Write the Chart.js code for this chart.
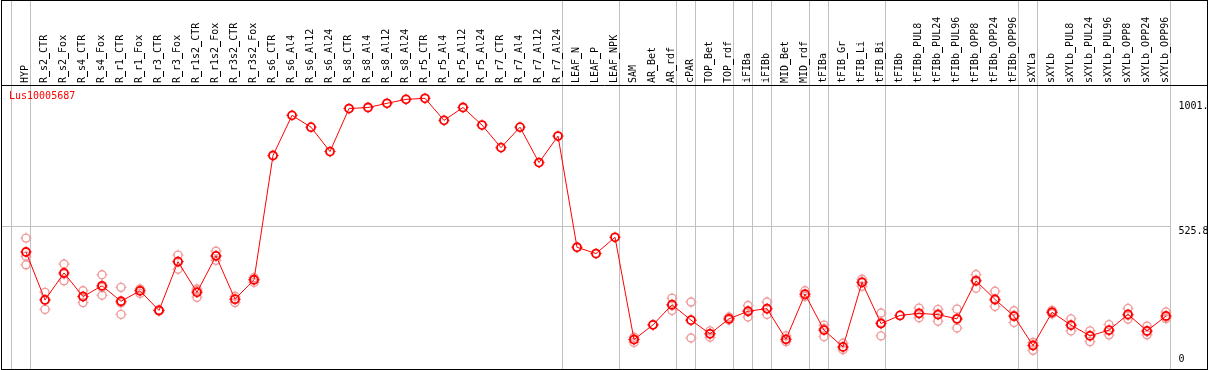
<!DOCTYPE html>
<html>
<head>
<meta charset="utf-8">
<script src="https://cdn.jsdelivr.net/npm/chart.js@4"></script>
<style>
  html, body { margin: 0; padding: 0; background: #fff; }
</style>
</head>
<body>
<canvas id="chart" width="1209" height="370"></canvas>
<script>
// sample names along the top
const categories = [
  'HYP', 'R_s2_CTR', 'R_s2_Fox', 'R_s4_CTR', 'R_s4_Fox', 'R_r1_CTR', 'R_r1_Fox', 'R_r3_CTR', 'R_r3_Fox',
  'R_r1s2_CTR', 'R_r1s2_Fox', 'R_r3s2_CTR', 'R_r3s2_Fox', 'R_s6_CTR', 'R_s6_Al4', 'R_s6_Al12', 'R_s6_Al24',
  'R_s8_CTR', 'R_s8_Al4', 'R_s8_Al12', 'R_s8_Al24', 'R_r5_CTR', 'R_r5_Al4', 'R_r5_Al12', 'R_r5_Al24',
  'R_r7_CTR', 'R_r7_Al4', 'R_r7_Al12', 'R_r7_Al24', 'LEAF_N', 'LEAF_P', 'LEAF_NPK', 'SAM', 'AR_Bet', 'AR_rdf',
  'cPAR', 'TOP_Bet', 'TOP_rdf', 'iFIBa', 'iFIBb', 'MID_Bet', 'MID_rdf', 'tFIBa', 'tFIB_Gr', 'tFIB_Li', 'tFIB_Bi',
  'tFIBb', 'tFIBb_PUL8', 'tFIBb_PUL24', 'tFIBb_PUL96', 'tFIBb_OPP8', 'tFIBb_OPP24', 'tFIBb_OPP96',
  'sXYLa', 'sXYLb', 'sXYLb_PUL8', 'sXYLb_PUL24', 'sXYLb_PUL96', 'sXYLb_OPP8', 'sXYLb_OPP24', 'sXYLb_OPP96'
];

// mean expression per sample
const meanValues = [
  428, 245, 348, 258, 299, 240, 280, 205, 391, 274, 413, 248, 322,
  796, 949, 904, 811, 975, 979, 995, 1010, 1014, 930, 979, 912, 826, 904, 769, 870,
  446, 422, 484, 94, 150, 227, 168, 116, 173, 202, 212, 95, 267, 130, 66, 312, 155,
  186, 194, 189, 173, 318, 247, 183, 71, 198, 149, 108, 130, 190, 127, 184
];

// replicates (pale circles)
const repHigh = [
  481, 274, 382, 280, 341, 293, 287, 207, 416, 287, 431, 259, 330,
  null, null, null, null, null, null, null, null, null, null, null, null, null, null, null, null,
  null, null, null, 103, null, 252, 237, 127, 180, 224, 237, 108, 280, 149, 80, 324, 195,
  null, 214, 209, 210, 342, 278, 204, 83, 205, 173, 127, 151, 213, 145, 199
];
const repLow = [
  379, 209, 318, 235, 263, 190, 270, 203, 362, 255, 396, 235, 312,
  null, null, null, null, null, null, null, null, null, null, null, null, null, null, null, null,
  null, null, null, 83, null, 205, 100, 103, 168, 180, 190, 86, 258, 105, 55, 297, 108,
  null, 177, 164, 138, 290, 220, 159, 53, 192, 127, 86, 112, 172, 112, 174
];
const repMid = [
  412, 246, 344, 259, 293, 234, 280, 205, 392, 280, 412, 247, 322,
  null, null, null, null, null, null, null, null, null, null, null, null, null, null, null, null,
  null, null, null, 95, 150, 224, 167, 116, 173, 202, 210, 95, 265, 136, 64, 314, 159,
  null, 192, 192, 171, 320, 244, 186, 74, 198, 148, 110, 128, 186, 124, 180
];

// index of the last sample in each group (grey separators)
const groupEnds = [-1, 0, 28, 31, 34, 35, 37, 38, 39, 41, 42, 45, 52, 53, 60];

const yTicks = [0, 525.8, 1001];
const yTickLabels = ['0', '525.8', '1001.'];
const yMax = 1061;

const mono = '10px "DejaVu Sans Mono", "Liberation Mono", monospace';

const framePlugin = {
  id: 'frame',
  beforeDatasetsDraw(chart) {
    const ctx = chart.ctx;
    const xs = chart.scales.x, ys = chart.scales.y;
    const W = chart.width, H = chart.height;
    const sepX = i => Math.round(xs.getPixelForValue(i) + 4) + 0.5;
    ctx.save();
    ctx.lineWidth = 1;

    ctx.strokeStyle = '#c0c0c0';
    groupEnds.forEach(i => {
      const px = sepX(i);
      ctx.beginPath(); ctx.moveTo(px, 0); ctx.lineTo(px, H); ctx.stroke();
    });
    const lastSep = sepX(groupEnds[groupEnds.length - 1]);
    const gy = Math.round(ys.getPixelForValue(yTicks[1])) + 0.5;
    ctx.beginPath(); ctx.moveTo(1, gy); ctx.lineTo(lastSep, gy); ctx.stroke();

    ctx.strokeStyle = '#000';
    ctx.strokeRect(1.5, 0.5, W - 3, H - 1);
    ctx.beginPath(); ctx.moveTo(1, 85.5); ctx.lineTo(W - 1, 85.5); ctx.stroke();

    // sample labels, rotated; the font's underscore is hairline-thin at 10px,
    // so go over it again with a crisp 1px bar
    ctx.fillStyle = '#000';
    ctx.font = mono;
    ctx.textAlign = 'left';
    ctx.textBaseline = 'alphabetic';
    const uw = ctx.measureText('_').width;
    categories.forEach((c, i) => {
      ctx.save();
      ctx.translate(Math.round(xs.getPixelForValue(i)) + 2, 83);
      ctx.rotate(-Math.PI / 2);
      ctx.fillText(c, 0, 0);
      for (let j = 0; j < c.length; j++) {
        if (c[j] === '_') {
          const x0 = ctx.measureText(c.slice(0, j)).width;
          ctx.fillRect(Math.round(x0), 2, Math.round(uw), 1);
        }
      }
      ctx.restore();
    });

    // value labels on the right
    yTicks.forEach((v, k) => {
      const py = ys.getPixelForValue(v);
      if (k === 0) {
        ctx.textBaseline = 'alphabetic';
        ctx.fillText(yTickLabels[k], lastSep + 8, py - 2);
      } else {
        ctx.textBaseline = 'top';
        ctx.fillText(yTickLabels[k], lastSep + 8, py);
      }
    });

    ctx.fillStyle = '#ff0000';
    ctx.textBaseline = 'top';
    ctx.fillText('Lus10005687', 9, 91);
    ctx.restore();
  },
  // little ticks on each ring marker
  afterDatasetDraw(chart, args) {
    const ds = chart.data.datasets[args.index];
    const ctx = chart.ctx;
    ctx.save();
    ctx.strokeStyle = ds.pointBorderColor;
    ctx.lineWidth = 1;
    ctx.beginPath();
    args.meta.data.forEach(pt => {
      if (pt.skip) return;
      ctx.moveTo(pt.x, pt.y - 4); ctx.lineTo(pt.x, pt.y - 5.6);
      ctx.moveTo(pt.x, pt.y + 4); ctx.lineTo(pt.x, pt.y + 5.6);
      ctx.moveTo(pt.x - 4, pt.y); ctx.lineTo(pt.x - 5.6, pt.y);
      ctx.moveTo(pt.x + 4, pt.y); ctx.lineTo(pt.x + 5.6, pt.y);
    });
    ctx.stroke();
    ctx.restore();
  }
};

const repSet = data => ({
  data: data,
  showLine: false,
  pointStyle: 'circle',
  pointRadius: 4,
  pointBorderWidth: 1.4,
  pointBorderColor: '#f09a9a',
  pointBackgroundColor: 'rgba(0,0,0,0)',
  clip: false
});

new Chart(document.getElementById('chart'), {
  type: 'line',
  data: {
    labels: categories,
    datasets: [
      {
        data: meanValues,
        borderColor: '#ff0000',
        borderWidth: 1,
        tension: 0,
        pointStyle: 'circle',
        pointRadius: 4,
        pointBorderWidth: 1.8,
        pointBorderColor: '#ff0000',
        pointBackgroundColor: 'rgba(0,0,0,0)',
        clip: false
      },
      repSet(repMid),
      repSet(repHigh),
      repSet(repLow)
    ]
  },
  options: {
    responsive: false,
    animation: false,
    events: [],
    layout: { padding: { left: 26, right: 43, top: 86, bottom: 2 } },
    plugins: { legend: { display: false }, tooltip: { enabled: false } },
    scales: {
      x: { type: 'category', display: false, offset: false },
      y: { display: false, min: 0, max: yMax }
    }
  },
  plugins: [framePlugin]
});
</script>
</body>
</html>
